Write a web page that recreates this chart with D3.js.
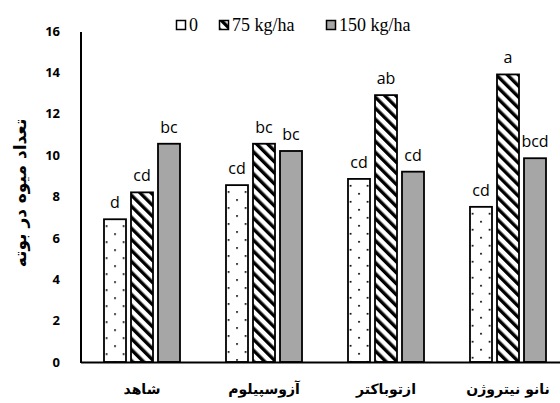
<!DOCTYPE html>
<html>
<head>
<meta charset="utf-8">
<script src="https://cdn.jsdelivr.net/npm/d3@7"></script>
<style>
  body { margin: 0; background: #fff; }
  svg { display: block; }
</style>
</head>
<body>
<div id="chart"></div>
<script>
// chart data
var categories = ["شاهد", "آزوسپیلوم", "ازتوباکتر", "نانو نیتروژن"];
var seriesNames = ["0", "75 kg/ha", "150 kg/ha"];
var vals0 = [6.9, 8.55, 8.85, 7.5];
var vals75 = [8.2, 10.55, 12.9, 13.9];
var vals150 = [10.55, 10.2, 9.2, 9.85];
var letters0 = ["d", "cd", "cd", "cd"];
var letters75 = ["cd", "bc", "ab", "a"];
var letters150 = ["bc", "bc", "cd", "bcd"];
var yTicks = [0, 2, 4, 6, 8, 10, 12, 14, 16];

var W = 560, H = 403;
var svg = d3.select("#chart").append("svg")
    .attr("width", W).attr("height", H);

var defs = svg.append("defs");

// diagonal hatch
var hatch = defs.append("pattern")
    .attr("id", "hatch")
    .attr("patternUnits", "userSpaceOnUse")
    .attr("width", 7.8).attr("height", 7.8)
    .attr("patternTransform", "rotate(-45)");
hatch.append("rect").attr("width", 7.8).attr("height", 7.8).attr("fill", "#fff");
hatch.append("rect").attr("width", 3.4).attr("height", 7.8).attr("fill", "#000");

var x0 = d3.scaleBand().domain(categories).range([81, 569])
    .paddingInner(0.377).paddingOuter(0.1885);
var x1 = d3.scaleBand().domain(seriesNames).range([0, x0.bandwidth()])
    .paddingInner(0.185).paddingOuter(0);
var y = d3.scaleLinear().domain([0, 16]).range([362, 31]);

// y axis (labels only)
var yAxis = svg.append("g")
    .attr("transform", "translate(81,0)")
    .call(d3.axisLeft(y).tickValues(yTicks).tickSize(0).tickPadding(21));
yAxis.select(".domain").remove();
yAxis.selectAll("text")
    .style("font-family", "'Open Sans', sans-serif")
    .style("font-weight", "bold")
    .style("font-size", "13px")
    .attr("fill", "#000");

svg.append("text")
    .attr("transform", "translate(21," + 193 + ") rotate(-90)")
    .attr("text-anchor", "middle")
    .attr("dominant-baseline", "middle")
    .style("font-family", "'DejaVu Sans', sans-serif")
    .style("font-weight", "bold")
    .style("font-size", "17px")
    .text("تعداد میوه در بوته");

var series = [
  {name: seriesNames[0], vals: vals0, lab: letters0, kind: "dots"},
  {name: seriesNames[1], vals: vals75, lab: letters75, kind: "hatch"},
  {name: seriesNames[2], vals: vals150, lab: letters150, kind: "grey"}
];

// bars
series.forEach(function(s) {
  categories.forEach(function(c, i) {
    var bx = x0(c) + x1(s.name), bw = x1.bandwidth();
    var by = y(s.vals[i]), bh = y(0) - y(s.vals[i]);
    var fill;
    if (s.kind === "dots") {
      // dots on left, centre, right columns; centre column offset by half a row
      var pid = "dots" + i, pw = bw - 5;
      var p = defs.append("pattern").attr("id", pid)
          .attr("patternUnits", "userSpaceOnUse")
          .attr("x", bx + 1.7).attr("y", by + 6)
          .attr("width", pw).attr("height", 16);
      p.append("rect").attr("width", pw).attr("height", 16).attr("fill", "#fff");
      p.append("rect").attr("x", 0).attr("y", 0).attr("width", 1.7).attr("height", 1.7).attr("fill", "#000");
      p.append("rect").attr("x", pw / 2).attr("y", 8).attr("width", 1.7).attr("height", 1.7).attr("fill", "#000");
      fill = "url(#" + pid + ")";
    } else if (s.kind === "hatch") {
      fill = "url(#hatch)";
    } else {
      fill = "#a6a6a6";
    }
    svg.append("rect")
        .attr("x", bx).attr("y", by)
        .attr("width", bw).attr("height", bh)
        .attr("fill", fill)
        .attr("stroke", "#000").attr("stroke-width", 1.8);
    svg.append("text")
        .attr("x", bx + bw / 2).attr("y", by - 11)
        .attr("text-anchor", "middle")
        .style("font-family", "'Open Sans', sans-serif")
        .style("font-size", "16px")
        .text(s.lab[i]);
  });
});

// axis lines
svg.append("line").attr("x1", 81).attr("x2", W).attr("y1", 362.5).attr("y2", 362.5)
    .attr("stroke", "#000").attr("stroke-width", 2);
svg.append("line").attr("x1", 81).attr("x2", 81).attr("y1", 32).attr("y2", 363)
    .attr("stroke", "#000").attr("stroke-width", 2);

// category labels
svg.selectAll("text.cat").data(categories).enter().append("text")
    .attr("class", "cat")
    .attr("x", function(d) { return x0(d) + x0.bandwidth() / 2; })
    .attr("y", 394)
    .attr("text-anchor", "middle")
    .attr("direction", "rtl")
    .style("font-family", "'DejaVu Sans', sans-serif")
    .style("font-weight", "bold")
    .style("font-size", "14px")
    .text(function(d) { return d; });

// legend
var lg = svg.append("g").style("font-family", "'Liberation Serif', serif").style("font-size", "18px");
var legX = [176, 219, 326];
var legFill = ["#fff", "url(#hatch)", "#a6a6a6"];
seriesNames.forEach(function(n, i) {
  lg.append("rect").attr("x", legX[i] + 0.5).attr("y", 20.5).attr("width", 9).attr("height", 9)
      .attr("fill", legFill[i]).attr("stroke", "#000").attr("stroke-width", 1.5);
  lg.append("text").attr("x", legX[i] + 13).attr("y", 31).text(n);
});
</script>
</body>
</html>
